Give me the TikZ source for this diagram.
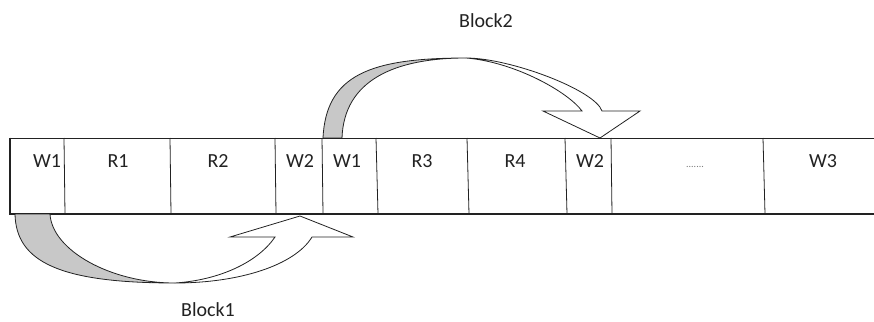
\documentclass[tikz,border=0pt]{standalone}
\usepackage{fontspec}
\setmainfont{Carlito}
\definecolor{inkgrey}{RGB}{34,34,34}
\definecolor{bandgrey}{RGB}{200,200,200}
\definecolor{dotgrey}{RGB}{120,120,120}
\tikzset{
  cellline/.style={draw=inkgrey, line width=0.8pt},
  edgeline/.style={draw=inkgrey, line width=1.8pt},
  celltext/.style={anchor=base, inner sep=0pt, text=inkgrey, font=\fontsize{20}{22}\selectfont},
  blocklabel/.style={anchor=base, inner sep=0pt, text=inkgrey, font=\fontsize{20}{22}\selectfont},
  bandback/.style={fill=bandgrey, draw=inkgrey, line width=0.8pt, line join=round},
  bandfront/.style={fill=white, draw=inkgrey, line width=0.8pt, line join=miter},
}
\begin{document}
\begin{tikzpicture}[x=1pt,y=-1pt]
\useasboundingbox (0,0) rectangle (874,321);

% the row of cells
\draw[cellline] (10,138) -- (874,138);
\draw[edgeline] (10,214) -- (874,214);
\draw[edgeline] (10,137.5) -- (10,214.5);
\foreach \xt/\xb in {64/65,170/171,275/276,322/323,376/378,467/469,565/567,611/612,763/765}
  \draw[cellline] (\xt,138) -- (\xb,214);

% cell labels
\node[celltext] (w1a) at (47,167) {W1};
\node[celltext] (r1)  at (118,167) {R1};
\node[celltext] (r2)  at (218,167) {R2};
\node[celltext] (w2a) at (300,167) {W2};
\node[celltext] (w1b) at (347,167) {W1};
\node[celltext] (r3)  at (422,167) {R3};
\node[celltext] (r4)  at (515,167) {R4};
\node[celltext] (w2b) at (590,167) {W2};
\node[anchor=base, inner sep=0pt, text=dotgrey, font=\fontsize{10}{12}\selectfont] (dots) at (695,167) {.......};
\node[celltext] (w3)  at (823,167) {W3};

% Block1: curved arrow below the row
\coordinate (b1low) at (175,283);
\path[bandback] (15,214) .. controls (16,262) and (60,283) .. (b1low)
  .. controls (110,283) and (52,250) .. (50,214) -- cycle;
\path[bandfront] (b1low) .. controls (240,283) and (295,265) .. (312,237)
  -- (353,237) -- (300,216) -- (230,237) -- (275,237)
  .. controls (258,262) and (220,280) .. (b1low) -- cycle;

% Block2: curved arrow above the row
\coordinate (b2top) at (466,58);
\path[bandback] (323,138) .. controls (326,75) and (370,58) .. (b2top)
  .. controls (395,58) and (344,80) .. (342,138) -- cycle;
\path[bandfront] (b2top) .. controls (510,58) and (595,90) .. (602,111)
  -- (640,111) -- (600,138) -- (543,111) -- (582,111)
  .. controls (568,92) and (515,62) .. (b2top) -- cycle;
\draw[cellline] (322,138) -- (343,138);

% block labels
\node[blocklabel] (block1) at (208,316) {Block1};
\node[blocklabel] (block2) at (486,28) {Block2};
\end{tikzpicture}
\end{document}
